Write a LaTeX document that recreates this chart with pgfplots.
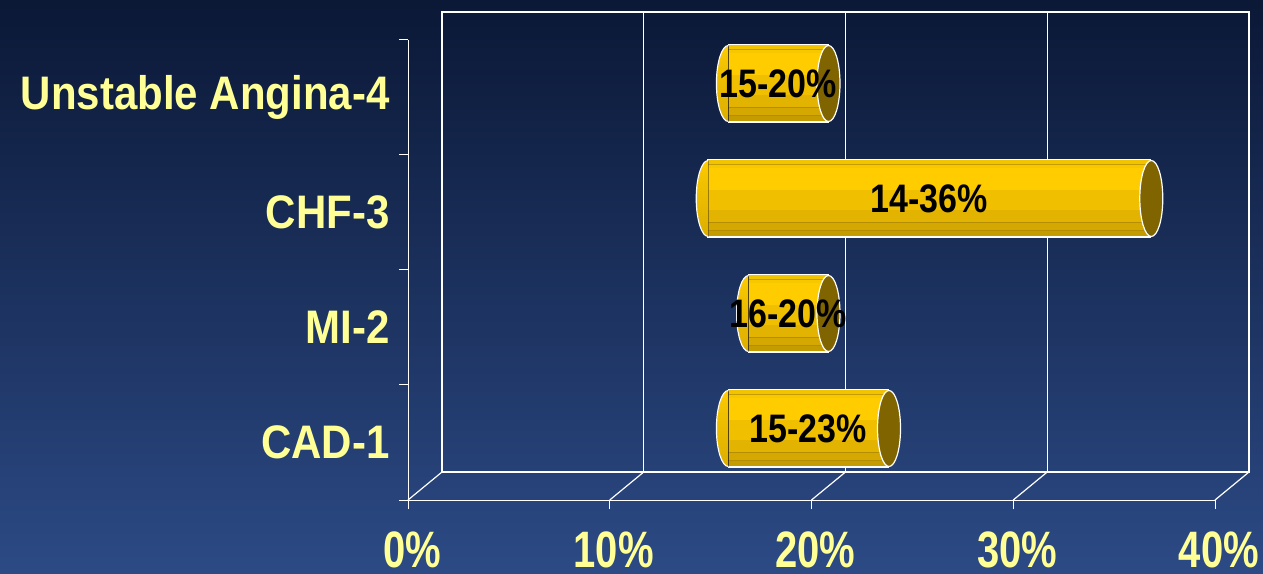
\documentclass[border=0pt]{standalone}
\usepackage{pgfplots}
\usepackage{pgfplotstable}
\pgfplotsset{compat=1.18}
\usepackage{fontspec}
\setmainfont{Liberation Sans}
\definecolor{bgtop}{RGB}{11,24,54}
\definecolor{bgbot}{RGB}{44,74,133}
\definecolor{lab}{RGB}{255,255,150}
\definecolor{capcol}{RGB}{128,100,0}
\definecolor{b1}{RGB}{196,156,0}
\definecolor{b2}{RGB}{212,168,0}
\definecolor{b3}{RGB}{226,179,0}
\definecolor{b4}{RGB}{240,192,0}
\definecolor{b5}{RGB}{255,204,0}
\definecolor{b6}{RGB}{247,200,0}
\definecolor{b7}{RGB}{242,196,0}
\definecolor{bl}{RGB}{180,142,0}
\pgfdeclareverticalshading{capshade}{100bp}{color(0bp)=(b1); color(18bp)=(b2); color(34bp)=(b3); color(60bp)=(b4); color(75bp)=(b5); color(90bp)=(b6); color(100bp)=(b7)}
\pgfdeclareplotmark{capR}{\filldraw[fill=capcol,draw=white,line width=1.2bp] (0,0) ellipse [x radius=11.5bp, y radius=38bp];}
\pgfdeclareplotmark{capL}{\shade[shading=capshade] (0.8bp,38bp) arc[start angle=90,end angle=270,x radius=12bp,y radius=38bp] -- cycle;
\draw[white,line width=1.2bp] (0.8bp,38bp) arc[start angle=90,end angle=270,x radius=12bp,y radius=38bp];}
% one row per bar: start, category position, length, end, middle, label
\pgfplotstableread{
start y len end mid label
15 3.5 5 20 17.5 15-20\%
14 2.5 22 36 25 14-36\%
16 1.5 4 20 18 16-20\%
15 0.5 8 23 19 15-23\%
}\bars
% a horizontal band of the cylinder body: #1 = yshift (bp), #2 = width (bp), #3 = colour
\newcommand{\band}[3]{\addplot[quiver={u=\thisrow{len},v=0}, -, line width=#2bp, draw=#3, xshift=17bp, yshift=#1bp] table[x=start,y=y] {\bars};}
\begin{document}
\begin{tikzpicture}
\fill[top color=bgtop,bottom color=bgbot] (0,0) rectangle (1263bp,574bp);
\begin{axis}[
  at={(408bp,74bp)}, anchor=south west,
  scale only axis, width=807bp, height=460bp,
  xmin=0, xmax=40, ymin=0, ymax=4,
  clip=false,
  axis x line*=bottom, axis y line*=left,
  axis line style={white, line width=1bp},
  tick style={white, line width=1bp},
  tick align=outside, major tick length=9bp,
  xtick={0,10,20,30,40},
  xticklabels={\scalebox{1}[1.28]{0\%},\scalebox{1}[1.28]{10\%},\scalebox{1}[1.28]{20\%},\scalebox{1}[1.28]{30\%},\scalebox{1}[1.28]{40\%}},
  ytick={0,1,2,3,4}, yticklabels={},
  extra y ticks={0.5,1.5,2.5,3.5},
  extra y tick labels={\scalebox{1}[1.12]{CAD-1},\scalebox{1}[1.12]{MI-2},\scalebox{1}[1.12]{CHF-3},\scalebox{1}[1.12]{Unstable Angina-4}},
  extra y tick style={major tick length=0pt, yticklabel style={anchor=east, xshift=-15bp, text=lab, font=\bfseries\fontsize{42bp}{48bp}\selectfont}},
  xticklabel style={text=lab, anchor=north, inner sep=0pt, yshift=-23bp, xshift=4bp, font=\bfseries\fontsize{40bp}{48bp}\selectfont},
]
% back wall and floor
\draw[white, line width=1.2bp, xshift=34bp, yshift=28bp] (axis cs:0,0) rectangle (axis cs:40,4);
\pgfplotsinvokeforeach{10,20,30}{
  \draw[white, line width=1.2bp, xshift=34bp, yshift=28bp] (axis cs:#1,0) -- (axis cs:#1,4);
}
\pgfplotsinvokeforeach{0,10,20,30,40}{
  \draw[white, line width=1.2bp] (axis cs:#1,0) -- ([xshift=34bp,yshift=28bp]axis cs:#1,0);
}
% floating cylinders: body as horizontal bands from start to end, rounded left end, right cap
\band{14}{78.4}{white}
\band{50}{4}{b7}
\band{47.5}{1}{b1}
\band{45.5}{3}{b6}
\band{33}{22}{b5}
\band{12}{20}{b4}
\band{-4}{12}{b3}
\band{-10.5}{1}{bl}
\band{-14.5}{7}{b2}
\band{-18.5}{1}{bl}
\band{-21.5}{5}{b1}
\addplot[only marks, mark=capL, xshift=17bp, yshift=14bp] table[x=start,y=y] {\bars};
\addplot[only marks, mark=capR, xshift=17bp, yshift=14bp] table[x=end,y=y] {\bars};
\addplot[only marks, mark=*, mark size=0pt, xshift=17bp, yshift=14bp,
  nodes near coords={\scalebox{1}[1.17]{\pgfplotspointmeta}}, point meta=explicit symbolic,
  every node near coord/.style={anchor=center, text=black, font=\bfseries\fontsize{34bp}{40bp}\selectfont}]
  table[x=mid,y=y,meta=label] {\bars};
\end{axis}
\pgfresetboundingbox
\useasboundingbox (0,0) rectangle (1263bp,574bp);
\end{tikzpicture}
\end{document}
